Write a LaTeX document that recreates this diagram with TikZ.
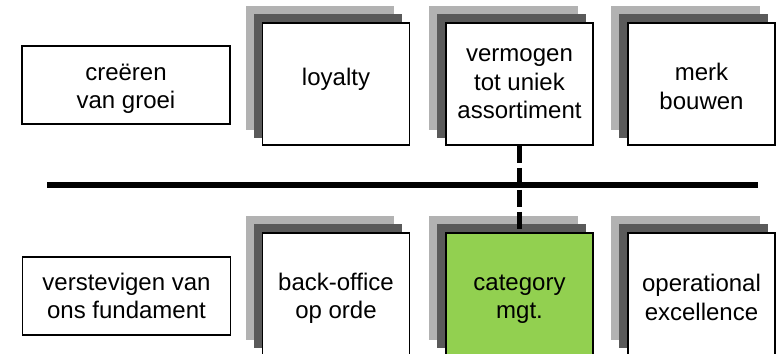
\documentclass[tikz,border=0pt]{standalone}
\usepackage{fontspec}
\setmainfont{Liberation Sans}
\usetikzlibrary{backgrounds}
\definecolor{shlight}{RGB}{178,178,178}
\definecolor{shdark}{RGB}{90,90,90}
\definecolor{catgreen}{RGB}{146,208,80}
\begin{document}
\begin{tikzpicture}[x=1pt,y=-1pt,
  box/.style={draw=black, line width=1.5pt, fill=white, inner sep=0pt},
  txt/.style={align=center, font=\fontsize{24}{28.5}\selectfont, inner sep=0pt},
  card/.style={box, minimum width=147pt, minimum height=122pt},
  side/.style={box, minimum width=208pt, minimum height=78pt},
  joint/.style={line width=5pt, dash pattern=on 17pt off 5pt}]
\useasboundingbox (0,0) rectangle (778,353);
% left labels
\node[side] (groei) at (126,85) {};
\node[side] (fund) at (126.5,296) {};
% cards
\node[card] (loy)  at (336,84)    {};
\node[card] (verm) at (519.5,84)  {};
\node[card] (merk) at (701.5,84)  {};
\node[card] (back) at (336,294)   {};
\node[card, fill=catgreen] (cat) at (519.5,294) {};
\node[card] (oper) at (701.5,294) {};
% shadows
\begin{pgfonlayer}{background}
\foreach \n in {loy,verm,merk,back,cat,oper}{
  \fill[shlight] ([xshift=-16pt,yshift=16pt]\n.south west) rectangle ([xshift=-16pt,yshift=16pt]\n.north east);
  \fill[shdark] ([xshift=-8pt,yshift=8pt]\n.south west) rectangle ([xshift=-8pt,yshift=8pt]\n.north east);
}
\end{pgfonlayer}
% texts
\node[txt] (groeiT) at ([yshift=-4pt]groei.center) {creëren\\van groei};
\node[txt] (fundT)  at (fund.center) {verstevigen van\\ons fundament};
\node[txt] (loyT)   at ([yshift=5pt]loy.center) {loyalty};
\node[txt] (vermT)  at (verm.center) {vermogen\\tot uniek\\assortiment};
\node[txt] (merkT)  at ([yshift=-2.5pt]merk.center) {merk\\bouwen};
\node[txt] (backT)  at ([yshift=-4.5pt]back.center) {back-office\\op orde};
\node[txt] (catT)   at ([yshift=-5pt]cat.center) {category\\mgt.};
\node[txt] (operT)  at ([yshift=-3.5pt]oper.center) {operational\\excellence};
% divider
\coordinate (hl) at (47,185);
\coordinate (hr) at (758,185);
\draw[line width=6pt] (hl) -- (hr);
% dashed link
\draw[joint] (verm.south) -- (cat.north);
\end{tikzpicture}
\end{document}
